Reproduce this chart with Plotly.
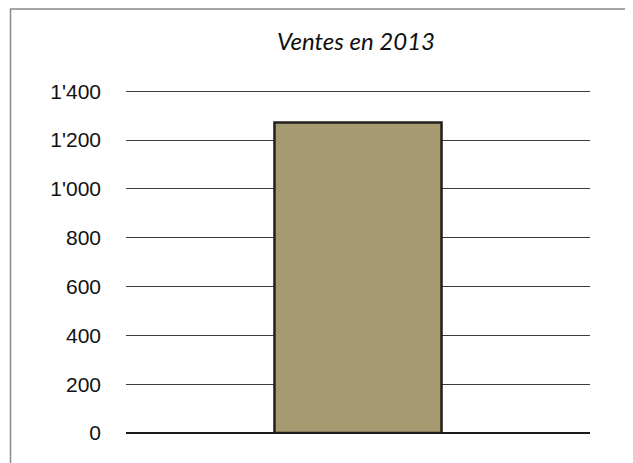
import plotly.graph_objects as go

categories = ["2013"]
ventes = [1272]
y_ticks = [0, 200, 400, 600, 800, 1000, 1200, 1400]

W, H = 633, 463
OFF = 8  # page body margin
Y_MAX = 1430
# plot area in screen px: x 126..590, y(1400)=91, y(0)=433
x_left, x_right = 126, 590
y_zero, y_1400 = 433, 91
per_unit = (y_zero - y_1400) / 1400
y_top = y_zero - Y_MAX * per_unit

L = x_left - OFF
R = W - (x_right - OFF)
T = y_top - OFF
B = H - (y_zero - OFF)
pw, ph = W - L - R, H - T - B

def px(xs):
    return (xs - OFF - L) / pw

def py(ys):
    return (H - B - (ys - OFF)) / ph

fig = go.Figure(
    go.Bar(
        x=categories,
        y=ventes,
        width=0.36,
        marker=dict(color="#A59A70", line=dict(color="#231F1C", width=2.5)),
    )
)

fig.update_layout(
    width=W,
    height=H,
    margin=dict(l=L, r=R, t=T, b=B, autoexpand=False),
    paper_bgcolor="white",
    plot_bgcolor="white",
    separators=".'",
    showlegend=False,
    font=dict(family="Liberation Sans, Arial", color="#111"),
    shapes=[
        dict(
            type="rect",
            xref="paper",
            yref="paper",
            x0=px(10.5),
            x1=px(700),
            y0=py(520),
            y1=py(8.5),
            line=dict(color="#8a8a8a", width=1.5),
            fillcolor="rgba(0,0,0,0)",
            layer="below",
        )
    ],
    annotations=[
        dict(
            text="<i>Ventes en 2013</i>",
            xref="paper",
            yref="paper",
            x=px(356),
            y=py(40),
            xanchor="center",
            yanchor="middle",
            showarrow=False,
            font=dict(family="Lato", size=24, color="#111"),
        )
    ],
)

fig.update_xaxes(
    showticklabels=False,
    showgrid=False,
    showline=False,
    zeroline=False,
    ticks="",
)
fig.update_yaxes(
    range=[0, Y_MAX],
    tickvals=y_ticks,
    tickformat=",d",
    showgrid=True,
    gridcolor="#3c3c3c",
    gridwidth=1,
    zeroline=True,
    zerolinecolor="#1a1a1a",
    zerolinewidth=1.5,
    showline=False,
    ticks="",
    ticklabelstandoff=24,
    tickfont=dict(family="Liberation Sans, Arial", size=21, color="#111"),
)

fig.write_html("out.html")
